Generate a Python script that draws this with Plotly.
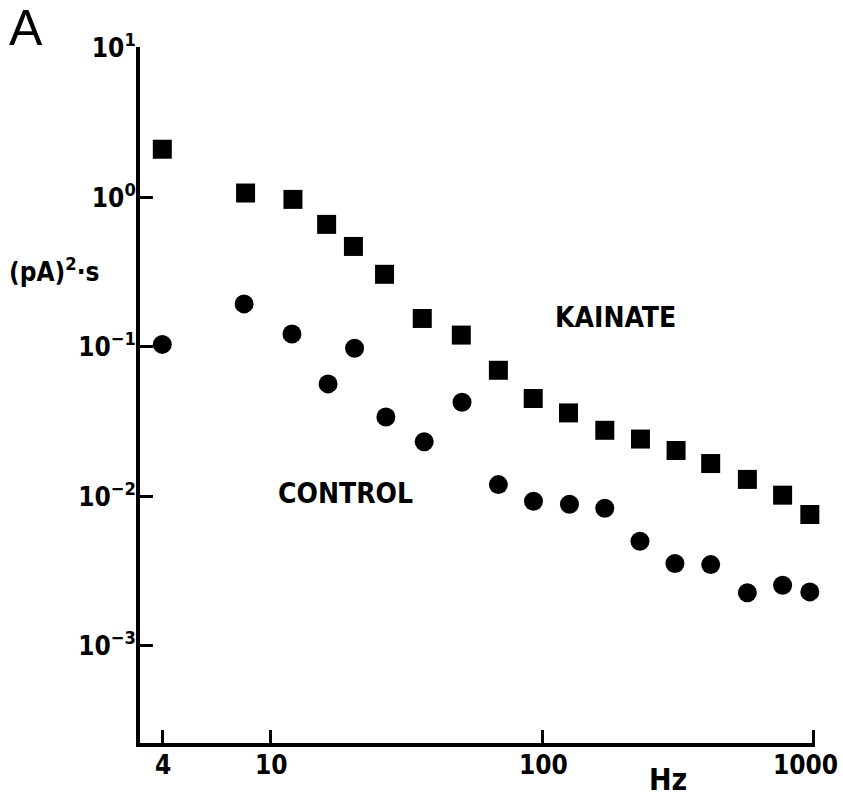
import math
import plotly.graph_objects as go

# Spectral density of current noise, (pA)^2·s versus frequency (Hz)
kainate_hz = [4, 8.1, 12.1, 16.1, 20.2, 26.3, 36.2, 50.4, 69, 92.7, 125, 170,
              230, 311, 417, 569, 767, 966]
kainate_psd = [2.10, 1.07, 0.97, 0.66, 0.47, 0.306, 0.155, 0.120, 0.0698, 0.0452,
               0.0362, 0.0277, 0.0242, 0.0203, 0.0166, 0.0130, 0.0102, 0.00757]

control_hz = [4, 8, 12, 16.3, 20.4, 26.6, 36.8, 50.7, 69, 92.9, 126, 170,
              229, 308, 417, 569, 767, 966]
control_psd = [0.104, 0.194, 0.122, 0.0566, 0.098, 0.034, 0.0232, 0.0427, 0.0120,
               0.00929, 0.00888, 0.00834, 0.00501, 0.00356, 0.00350, 0.00227,
               0.00255, 0.00230]

x_tick_vals = [4, 10, 100, 1000]
x_tick_text = ["4", "10", "100", "1000"]
y_tick_vals = [10, 1, 0.1, 0.01, 0.001]
y_tick_text = ["10<sup>1</sup>", "10<sup>0</sup>", "10<sup>−1</sup>",
               "10<sup>−2</sup>", "10<sup>−3</sup>"]

FONT = "DejaVu Sans Condensed, Liberation Sans Narrow, sans-serif"
tick_font = dict(family=FONT, size=26, color="black", weight="bold")

fig = go.Figure()
fig.add_trace(go.Scatter(
    x=kainate_hz, y=kainate_psd, mode="markers", name="KAINATE",
    marker=dict(symbol="square", size=19, color="black"),
    cliponaxis=False,
))
fig.add_trace(go.Scatter(
    x=control_hz, y=control_psd, mode="markers", name="CONTROL",
    marker=dict(symbol="circle", size=19, color="black"),
    cliponaxis=False,
))

axis_common = dict(
    type="log", showgrid=False, zeroline=False, showline=True, automargin=False,
    linecolor="black", linewidth=4, ticks="inside", ticklen=13,
    tickwidth=3, tickcolor="black", ticklabeloverflow="allow",
    tickfont=tick_font,
)

# x tick labels are placed as annotations so the last one can sit inside the page
fig.update_xaxes(range=[0.52, 3.004], tickvals=x_tick_vals, showticklabels=False,
                 **axis_common)
fig.update_yaxes(range=[-3.649, 1.006], tickvals=y_tick_vals, ticktext=y_tick_text,
                 ticklabelstandoff=-5, **axis_common)

for val, txt in zip(x_tick_vals, x_tick_text):
    fig.add_annotation(
        x=math.log10(val), xref="x", y=(742.7 - 765) / 695, yref="paper",
        text=txt, showarrow=False, xanchor="center", yanchor="middle",
        xshift=-8 if val == x_tick_vals[-1] else 1, font=tick_font,
    )

text_font = dict(family=FONT, size=28, color="black", weight="bold")

notes = [
    dict(text="KAINATE", xref="paper", yref="paper", x=(615 - 140) / 675,
         y=(742.7 - 318) / 695, font=text_font),
    dict(text="CONTROL", xref="paper", yref="paper", x=(345 - 140) / 675,
         y=(742.7 - 494) / 695, font=text_font),
    dict(text="Hz", xref="paper", yref="paper", x=(668 - 140) / 675,
         y=(742.7 - 779) / 695, font=dict(family=FONT, size=30, color="black", weight="bold")),
    dict(text="(pA)<sup>2</sup>·s", xref="paper", yref="paper", x=(54 - 140) / 675,
         y=(742.7 - 270) / 695, font=dict(family=FONT, size=26, color="black", weight="bold")),
    dict(text="A", xref="paper", yref="paper", x=(26 - 140) / 675,
         y=(742.7 - 29) / 695, font=dict(family="Liberation Sans, Arial, sans-serif", size=50, color="black")),
]
for n in notes:
    fig.add_annotation(showarrow=False, xanchor="center", yanchor="middle", **n)

fig.update_layout(
    width=843, height=802,
    margin=dict(l=140, r=28, t=47, b=59),
    paper_bgcolor="white", plot_bgcolor="white",
    showlegend=False,
)

fig.write_html("out.html")
